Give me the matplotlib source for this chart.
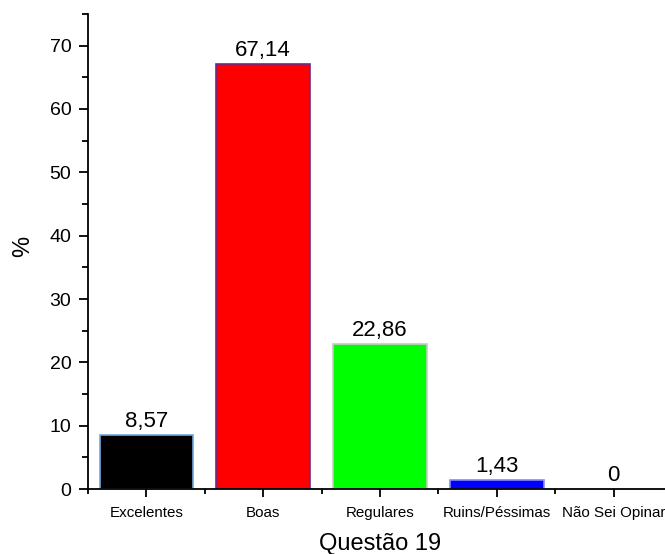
import matplotlib
matplotlib.use("Agg")
import matplotlib.pyplot as plt
from matplotlib.ticker import MultipleLocator, FixedLocator

categories = ["Excelentes", "Boas", "Regulares", "Ruins/Péssimas", "Não Sei Opinar"]
values = [8.57, 67.14, 22.86, 1.43, 0.0]
value_labels = ["8,57", "67,14", "22,86", "1,43", "0"]
bar_colors = ["#000000", "#ff0000", "#00ff00", "#0000ff", "#ffffff"]
edge_colors = ["#6fa8dc", "#6a2a8a", "#c8c8c8", "#8a8aff", "#ffffff"]

plt.rcParams['font.family'] = ['Liberation Sans', 'DejaVu Sans']

fig = plt.figure(figsize=(6.65, 5.54), dpi=100)
W, H = 665, 554
left, right, bottom, top = 88, 672, 489, 14
ax = fig.add_axes([left / W, 1 - bottom / H, (right - left) / W, (bottom - top) / H])

x = list(range(1, len(categories) + 1))
ax.bar(x, values, width=0.8, color=bar_colors, edgecolor=edge_colors, linewidth=1.2, zorder=2)
for xi, v, lab in zip(x, values, value_labels):
    ax.text(xi, v + 0.45, lab, ha='center', va='bottom', fontsize=16, color='black')

ax.set_xlim(0.5, 5.5)
ax.set_ylim(0, 75)
ax.yaxis.set_major_locator(MultipleLocator(10))
ax.yaxis.set_minor_locator(MultipleLocator(5))
ax.set_xticks(x)
ax.set_xticklabels(categories, fontsize=10.9)
ax.xaxis.set_minor_locator(FixedLocator([0.5, 1.5, 2.5, 3.5, 4.5, 5.5]))

for s in ['top', 'right']:
    ax.spines[s].set_visible(False)
for s in ['left', 'bottom']:
    ax.spines[s].set_linewidth(1.3)

ax.tick_params(axis='y', which='major', length=6.5, width=1.3, labelsize=14, direction='out', pad=5.5)
ax.tick_params(axis='y', which='minor', length=4.3, width=1.3, direction='out')
ax.tick_params(axis='x', which='major', length=6, width=1.3, direction='out', pad=6)
ax.tick_params(axis='x', which='minor', length=3.8, width=1.3, direction='out')

ax.set_ylabel('%', fontsize=17)
ax.yaxis.set_label_coords(-0.093, 0.51)
ax.set_xlabel('Questão 19', fontsize=17)
ax.xaxis.set_label_coords(0.5, -0.093)

fig.savefig('out.png', dpi=100)
